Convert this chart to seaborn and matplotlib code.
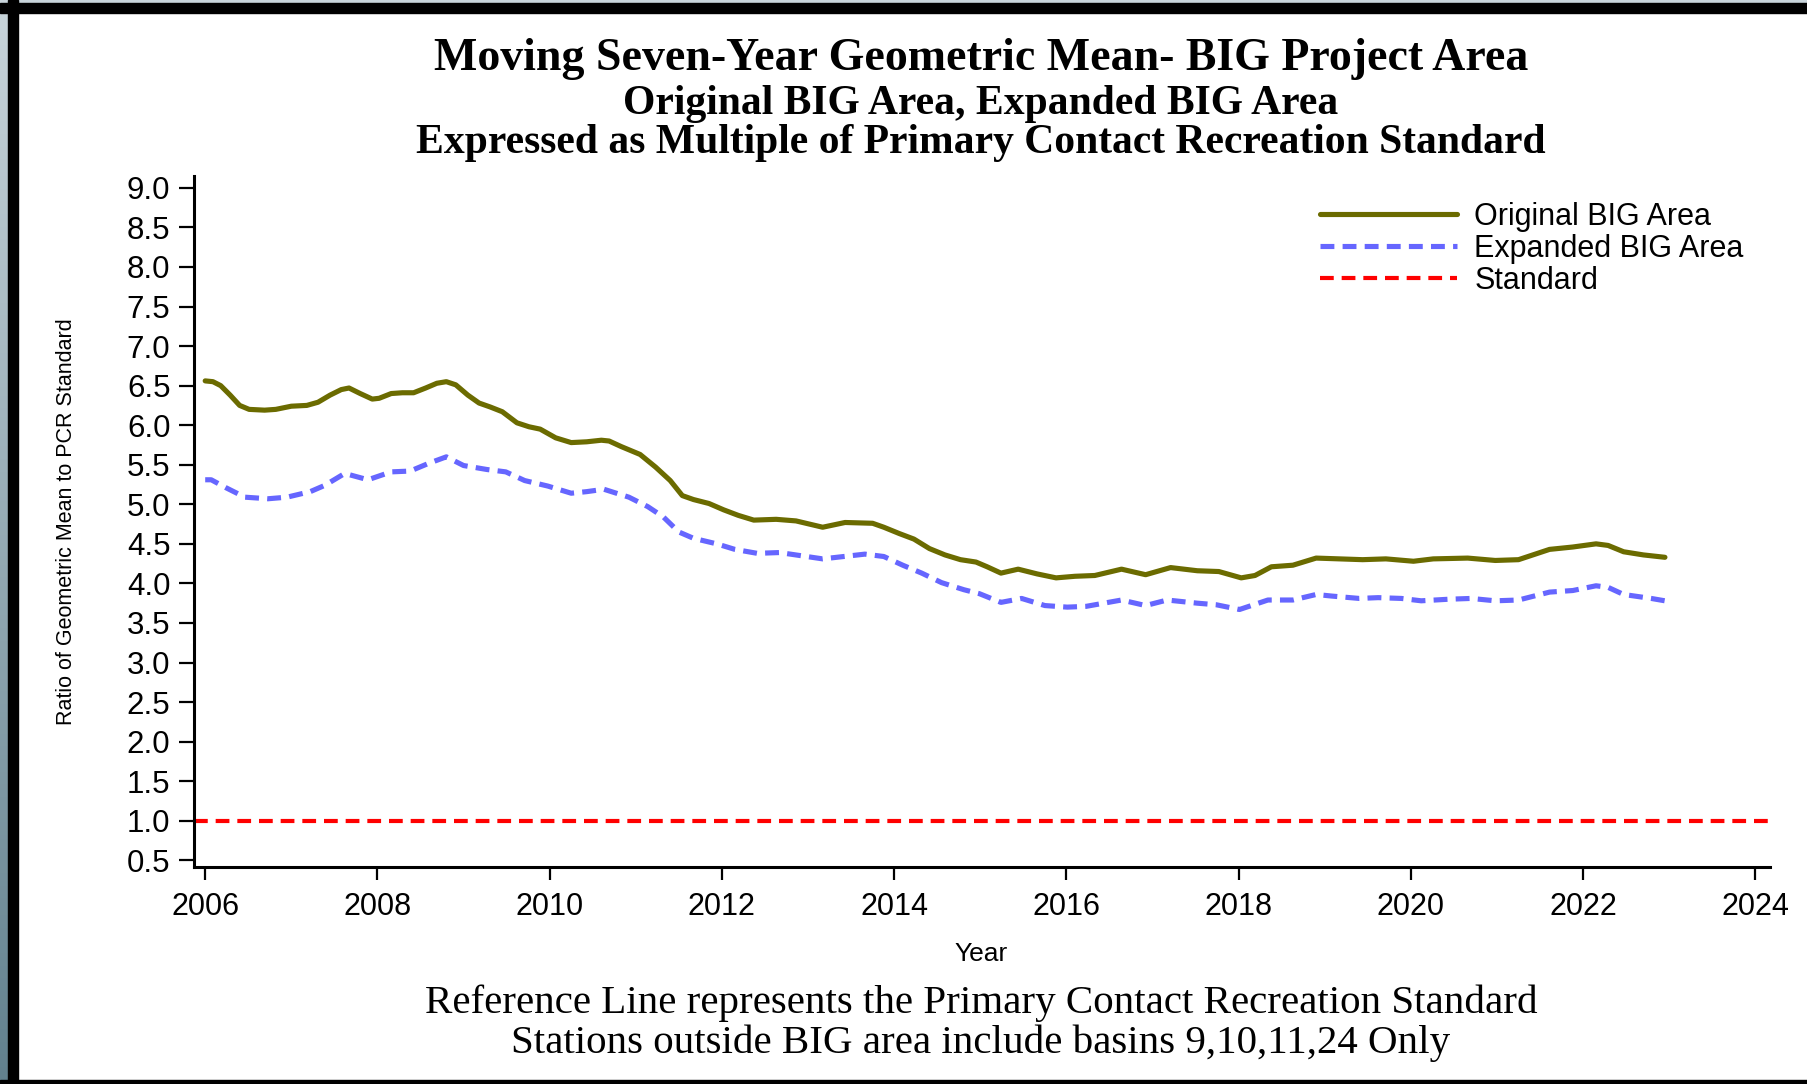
import numpy as np
import pandas as pd
import matplotlib
matplotlib.use("Agg")
import matplotlib.pyplot as plt
from matplotlib import font_manager
from matplotlib.patches import Rectangle
from matplotlib.lines import Line2D
import seaborn as sns

# values
orig_year = [2006.00, 2006.09, 2006.18, 2006.29, 2006.40, 2006.51, 2006.69, 2006.82, 2007.00, 2007.18,
             2007.31, 2007.45, 2007.58, 2007.67, 2007.80, 2007.94, 2008.02, 2008.16, 2008.29, 2008.42,
             2008.56, 2008.69, 2008.80, 2008.91, 2009.05, 2009.18, 2009.31, 2009.45, 2009.62, 2009.76,
             2009.89, 2010.07, 2010.25, 2010.43, 2010.60, 2010.69, 2010.83, 2011.05, 2011.23, 2011.40,
             2011.54, 2011.67, 2011.85, 2012.02, 2012.19, 2012.37, 2012.63, 2012.86, 2013.17, 2013.43,
             2013.75, 2013.88, 2014.06, 2014.23, 2014.41, 2014.59, 2014.77, 2014.95, 2015.08, 2015.24,
             2015.44, 2015.66, 2015.88, 2016.10, 2016.33, 2016.64, 2016.92, 2017.21, 2017.52, 2017.77,
             2018.03, 2018.19, 2018.38, 2018.63, 2018.90, 2019.44, 2019.71, 2020.03, 2020.26, 2020.66,
             2020.98, 2021.25, 2021.61, 2021.88, 2022.15, 2022.29, 2022.47, 2022.70, 2022.95]
orig_val = [6.56, 6.55, 6.50, 6.38, 6.25, 6.20, 6.19, 6.20, 6.24, 6.25,
            6.29, 6.38, 6.45, 6.47, 6.40, 6.33, 6.34, 6.40, 6.41, 6.41,
            6.47, 6.53, 6.55, 6.51, 6.38, 6.28, 6.23, 6.17, 6.03, 5.98,
            5.95, 5.84, 5.78, 5.79, 5.81, 5.80, 5.73, 5.63, 5.47, 5.30,
            5.11, 5.06, 5.01, 4.93, 4.86, 4.80, 4.81, 4.79, 4.71, 4.77,
            4.76, 4.71, 4.63, 4.56, 4.44, 4.36, 4.30, 4.27, 4.21, 4.13,
            4.18, 4.12, 4.07, 4.09, 4.10, 4.18, 4.11, 4.20, 4.16, 4.15,
            4.07, 4.10, 4.21, 4.23, 4.32, 4.30, 4.31, 4.28, 4.31, 4.32,
            4.29, 4.30, 4.43, 4.46, 4.50, 4.48, 4.40, 4.36, 4.33]

exp_year = [2006.00, 2006.07, 2006.24, 2006.46, 2006.73, 2006.95, 2007.22, 2007.39, 2007.62, 2007.89,
            2008.16, 2008.38, 2008.60, 2008.80, 2009.00, 2009.27, 2009.49, 2009.71, 2009.98, 2010.25,
            2010.43, 2010.63, 2010.92, 2011.14, 2011.32, 2011.50, 2011.67, 2011.94, 2012.15, 2012.41,
            2012.67, 2013.17, 2013.66, 2013.88, 2014.10, 2014.32, 2014.55, 2014.81, 2014.99, 2015.24,
            2015.48, 2015.75, 2016.01, 2016.23, 2016.64, 2016.92, 2017.17, 2017.52, 2017.74, 2018.01,
            2018.34, 2018.63, 2018.90, 2019.08, 2019.40, 2019.62, 2019.89, 2020.12, 2020.44, 2020.70,
            2020.98, 2021.25, 2021.61, 2021.88, 2022.15, 2022.29, 2022.47, 2022.79, 2022.95]
exp_val = [5.31, 5.31, 5.21, 5.09, 5.07, 5.09, 5.16, 5.24, 5.39, 5.31,
           5.41, 5.42, 5.52, 5.60, 5.49, 5.44, 5.41, 5.30, 5.23, 5.14,
           5.16, 5.19, 5.09, 4.97, 4.84, 4.65, 4.57, 4.50, 4.43, 4.38,
           4.39, 4.31, 4.37, 4.34, 4.23, 4.13, 4.01, 3.92, 3.87, 3.76,
           3.81, 3.72, 3.70, 3.71, 3.79, 3.72, 3.79, 3.75, 3.73, 3.67,
           3.79, 3.79, 3.86, 3.84, 3.81, 3.82, 3.81, 3.78, 3.80, 3.81,
           3.78, 3.79, 3.89, 3.91, 3.97, 3.95, 3.86, 3.81, 3.78]

standard = 1.0
series_names = ["Original BIG Area", "Expanded BIG Area"]
yticks = [0.5, 1.0, 1.5, 2.0, 2.5, 3.0, 3.5, 4.0, 4.5, 5.0, 5.5, 6.0, 6.5, 7.0, 7.5, 8.0, 8.5, 9.0]
xticks = [2006, 2008, 2010, 2012, 2014, 2016, 2018, 2020, 2022, 2024]

df = pd.concat([
    pd.DataFrame({"year": orig_year, "value": orig_val, "series": series_names[0]}),
    pd.DataFrame({"year": exp_year, "value": exp_val, "series": series_names[1]}),
])

sns.set_style("ticks")
names = {f.name for f in font_manager.fontManager.ttflist}
sans = "Liberation Sans" if "Liberation Sans" in names else "DejaVu Sans"
serif = "Liberation Serif" if "Liberation Serif" in names else "DejaVu Serif"
plt.rcParams["font.family"] = [sans, "DejaVu Sans"]
plt.rcParams["text.color"] = "black"
plt.rcParams["xtick.color"] = "black"
plt.rcParams["ytick.color"] = "black"
plt.rcParams["axes.edgecolor"] = "black"

olive = "#6b6b00"
blue = "#6666ff"
red = "#ff0000"
blue_dash = (2.7, 1.6)
red_dash = (3.3, 1.9)

fig = plt.figure(figsize=(18.08, 10.84), dpi=100, facecolor="white")
ax = fig.add_axes([194 / 1808, 217 / 1084, (1770 - 194) / 1808, (908 - 217) / 1084])

sns.lineplot(data=df, x="year", y="value", hue="series", style="series",
             palette={series_names[0]: olive, series_names[1]: blue},
             dashes={series_names[0]: "", series_names[1]: blue_dash},
             linewidth=3.7, legend=False, ax=ax, sort=False)
ax.axhline(standard, color=red, lw=3.0, dashes=red_dash)

ax.set_xlim(2005.87, 2024.17)
ax.set_ylim(0.415, 9.15)
ax.set_xticks(xticks)
ax.set_yticks(yticks)
ax.set_yticklabels([f"{v:.1f}" for v in yticks])
ax.tick_params(axis="y", length=11, width=1.6, pad=6, labelsize=22.5)
ax.tick_params(axis="x", length=9, width=1.6, pad=9, labelsize=22)
for s in ["top", "right"]:
    ax.spines[s].set_visible(False)
for s in ["left", "bottom"]:
    ax.spines[s].set_linewidth(2.2)

ax.set_xlabel("")
ax.set_ylabel("")
fig.text(981 / 1808, 1 - 954 / 1084, "Year", ha="center", va="center", fontsize=19)
fig.text(67 / 1808, 1 - 522 / 1084, "Ratio of Geometric Mean to PCR Standard",
         rotation=90, ha="center", va="center", fontsize=15.5)

handles = [Line2D([], [], color=olive, lw=3.7),
           Line2D([], [], color=blue, lw=3.7, dashes=blue_dash),
           Line2D([], [], color=red, lw=3.0, dashes=red_dash)]
fig.legend(handles, series_names + ["Standard"], loc="upper left",
           bbox_to_anchor=(1320 / 1808, 1 - 202 / 1084), frameon=False, fontsize=22,
           handlelength=4.5, handletextpad=0.55, labelspacing=0.06, borderpad=0, borderaxespad=0)

cx = 981 / 1808
fig.text(cx, 1 - 59 / 1084, "Moving Seven-Year Geometric Mean- BIG Project Area",
         ha="center", va="center", fontsize=33, fontweight="bold", family=serif)
fig.text(cx, 1 - 104 / 1084, "Original BIG Area, Expanded BIG Area",
         ha="center", va="center", fontsize=30, fontweight="bold", family=serif)
fig.text(cx, 1 - 143 / 1084, "Expressed as Multiple of Primary Contact Recreation Standard",
         ha="center", va="center", fontsize=30, fontweight="bold", family=serif)
fig.text(cx, 1 - 1003 / 1084, "Reference Line represents the Primary Contact Recreation Standard",
         ha="center", va="center", fontsize=29.5, family=serif)
fig.text(cx, 1 - 1043 / 1084, "Stations outside BIG area include basins 9,10,11,24 Only",
         ha="center", va="center", fontsize=29.5, family=serif)

# frame around the slide
W, H = 1808, 1084
fig.patches.append(Rectangle((0, 1 - 3 / H), 1, 3 / H, transform=fig.transFigure,
                             color="#c8d4da", zorder=0))
fig.patches.append(Rectangle((0, 1 - 13 / H), 1, 10 / H, transform=fig.transFigure,
                             color="black", zorder=1))
fig.patches.append(Rectangle((8 / W, 0), 10 / W, 1, transform=fig.transFigure,
                             color="black", zorder=1))
fig.patches.append(Rectangle((0, 0), 1, 4 / H, transform=fig.transFigure,
                             color="black", zorder=1))
strip = fig.add_axes([0, 0, 8 / W, 1 - 3 / H])
strip.imshow(np.linspace(0, 1, 256).reshape(-1, 1), aspect="auto",
             cmap=matplotlib.colors.LinearSegmentedColormap.from_list("s", ["#c8d4da", "#62818e"]))
strip.set_axis_off()

fig.savefig("out.png", dpi=100, facecolor="white")
